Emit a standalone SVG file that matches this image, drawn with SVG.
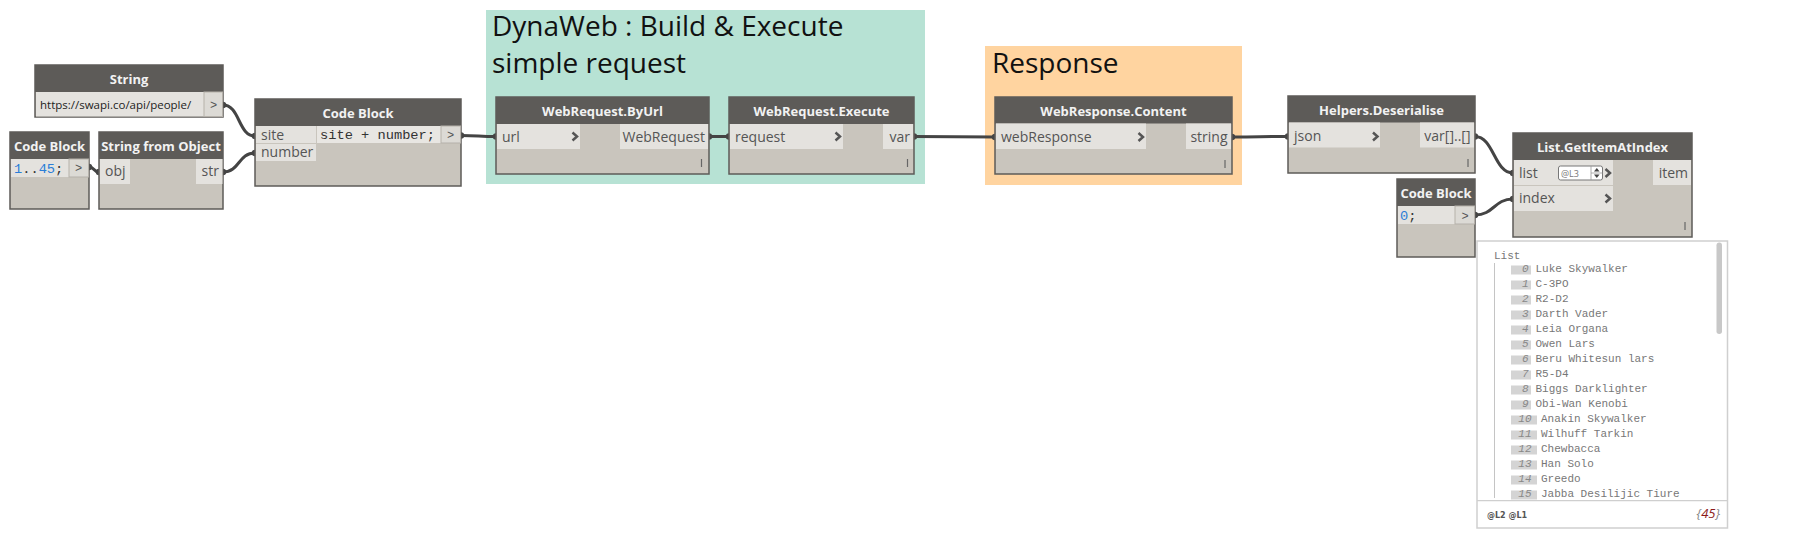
<svg xmlns="http://www.w3.org/2000/svg" width="1806" height="540" viewBox="0 0 1806 540">
<style>
.hdr{fill:#5d5b58}
.body{fill:#c9c5bd;stroke:#5d5b58;stroke-width:1.5}
.port{fill:#e4e2de}
.pbox{fill:#dcdad5;stroke:#b5b1aa;stroke-width:1}
.ht{font-family:"Open Sans","Noto Sans",sans-serif;font-size:13px;font-weight:bold;fill:#f2f2f2;text-anchor:middle}
.pt{font-family:"Open Sans","Noto Sans",sans-serif;font-size:14px;fill:#555}
.ptr{font-family:"Open Sans","Noto Sans",sans-serif;font-size:14px;fill:#555;text-anchor:end}
.code{font-family:"Liberation Mono","DejaVu Sans Mono",monospace;font-size:13.7px;fill:#333}
.num{fill:#2a7ed8}
.gt{font-family:"Open Sans","Noto Sans",sans-serif;font-size:28px;fill:#111}
.chev{fill:none;stroke:#555;stroke-width:2.5}
.lace{stroke:#666;stroke-width:1.2}
.wire{fill:none;stroke:#444;stroke-width:3}
.dot{fill:#444}
.wt{font-family:"Liberation Mono","DejaVu Sans Mono",monospace;font-size:11px;fill:#777}
.wi{font-family:"Liberation Mono","DejaVu Sans Mono",monospace;font-size:11px;fill:#888;font-style:italic;text-anchor:end}
.ib{fill:#d4d4d4}
</style>

<g id="group-dynaweb">
<rect x="486" y="10" width="439" height="174" fill="#b7e2d4"/>
<text class="gt" x="492" y="36">DynaWeb : Build &amp; Execute</text>
<text class="gt" x="492" y="72.5">simple request</text>
</g>
<g id="group-response">
<rect x="985" y="46" width="257" height="139" fill="#ffd4a0"/>
<text class="gt" x="992" y="73">Response</text>
</g>

<g id="connectors">
<path class="wire" d="M223,105 C240,105 238,136 255,136"/>
<path class="wire" d="M223,172 C240,172 238,153 255,153"/>
<path class="wire" d="M89,167 C95,167 93,172 99,172"/>
<path class="wire" d="M461,135.5 C478,135.5 479,136.5 496,136.5"/>
<path class="wire" d="M709,136.5 L729,136.5"/>
<path class="wire" d="M914,136.5 C950,136.5 959,137 995,137"/>
<path class="wire" d="M1232,137 C1260,137 1260,136.5 1288,136.5"/>
<path class="wire" d="M1475,136.5 C1494,136.5 1494,173 1513,173"/>
<path class="wire" d="M1475,215 C1494,215 1494,199 1513,199"/>
<g class="dot">
<circle cx="223" cy="105" r="3.2"/><circle cx="255" cy="136" r="3.2"/>
<circle cx="223" cy="172" r="3.2"/><circle cx="255" cy="153" r="3.2"/>
<circle cx="89" cy="167" r="3.2"/><circle cx="99" cy="172" r="3.2"/>
<circle cx="461" cy="135.5" r="3.2"/><circle cx="496" cy="136.5" r="3.2"/>
<circle cx="709" cy="136.5" r="3.2"/><circle cx="729" cy="136.5" r="3.2"/>
<circle cx="914" cy="136.5" r="3.2"/><circle cx="995" cy="137" r="3.2"/>
<circle cx="1232" cy="137" r="3.2"/><circle cx="1288" cy="136.5" r="3.2"/>
<circle cx="1475" cy="136.5" r="3.2"/><circle cx="1513" cy="173" r="3.2"/>
<circle cx="1475" cy="215" r="3.2"/><circle cx="1513" cy="199" r="3.2"/>
</g>
</g>

<g id="node-string">
<rect class="body" x="35" y="65" width="188" height="52"/>
<rect class="hdr" x="35" y="65" width="188" height="27"/>
<text class="ht" x="129" y="83.5">String</text>
<rect x="36" y="92" width="168" height="24.5" fill="#e4e2de"/>
<rect class="pbox" x="204" y="92" width="18.5" height="24.5"/>
<text x="40" y="109" font-family="'Open Sans','Noto Sans',sans-serif" font-size="11.5" fill="#222">https://swapi.co/api/people/</text>
<text x="213.5" y="109" font-family="'Liberation Mono',monospace" font-size="12" fill="#555" text-anchor="middle">&gt;</text>
</g>

<g id="node-codeblock-range">
<rect class="body" x="10" y="132" width="79" height="77"/>
<rect class="hdr" x="10" y="132" width="79" height="27"/>
<text class="ht" x="49.5" y="150.5">Code Block</text>
<rect class="port" x="11" y="159" width="58" height="18"/>
<rect class="pbox" x="69" y="159" width="19.5" height="18"/>
<text class="code" x="14" y="172.5"><tspan class="num">1</tspan>..<tspan class="num">45</tspan>;</text>
<text x="78.5" y="172" font-family="'Liberation Mono',monospace" font-size="12" fill="#555" text-anchor="middle">&gt;</text>
</g>

<g id="node-string-from-object">
<rect class="body" x="99" y="132" width="124" height="77"/>
<rect class="hdr" x="99" y="132" width="124" height="27"/>
<text class="ht" x="161" y="150.5">String from Object</text>
<rect class="port" x="100" y="159" width="30" height="25"/>
<rect class="port" x="196" y="159" width="26.5" height="25"/>
<text class="pt" x="105" y="176">obj</text>
<text class="ptr" x="219" y="176">str</text>
</g>

<g id="node-codeblock-concat">
<rect class="body" x="255" y="99" width="206" height="87"/>
<rect class="hdr" x="255" y="99" width="206" height="27"/>
<text class="ht" x="358" y="117.5">Code Block</text>
<rect class="port" x="256" y="126" width="60" height="17"/>
<rect class="port" x="256" y="144" width="60" height="17"/>
<rect x="317" y="126" width="124" height="17" fill="#e8e6e2"/>
<rect class="pbox" x="441" y="126" width="19.5" height="17"/>
<text class="pt" x="261" y="139.5">site</text>
<text class="pt" x="261" y="157">number</text>
<text class="code" x="320" y="139">site + number;</text>
<text x="450.5" y="139" font-family="'Liberation Mono',monospace" font-size="12" fill="#555" text-anchor="middle">&gt;</text>
</g>

<g id="node-webrequest-byurl">
<rect class="body" x="496" y="97" width="213" height="77"/>
<rect class="hdr" x="496" y="97" width="213" height="27"/>
<text class="ht" x="602.5" y="115.5">WebRequest.ByUrl</text>
<rect class="port" x="497" y="124" width="83" height="25"/>
<rect class="port" x="620" y="124" width="88" height="25"/>
<text class="pt" x="502" y="141.5">url</text>
<polyline class="chev" points="572.5,132.5 577,136.5 572.5,140.5"/>
<text class="ptr" x="705" y="141.5">WebRequest</text>
<line class="lace" x1="701.5" y1="159" x2="701.5" y2="167"/>
</g>

<g id="node-webrequest-execute">
<rect class="body" x="729" y="97" width="185" height="77"/>
<rect class="hdr" x="729" y="97" width="185" height="27"/>
<text class="ht" x="821.5" y="115.5">WebRequest.Execute</text>
<rect class="port" x="730" y="124" width="113" height="25"/>
<rect class="port" x="883" y="124" width="30" height="25"/>
<text class="pt" x="735" y="141.5">request</text>
<polyline class="chev" points="835.5,132.5 840,136.5 835.5,140.5"/>
<text class="ptr" x="910" y="141.5">var</text>
<line class="lace" x1="907.5" y1="159" x2="907.5" y2="167"/>
</g>

<g id="node-webresponse-content">
<rect class="body" x="995" y="97" width="237" height="77"/>
<rect class="hdr" x="995" y="97" width="237" height="26.5"/>
<text class="ht" x="1113.5" y="115.5">WebResponse.Content</text>
<rect class="port" x="996" y="123.5" width="150" height="25.5"/>
<rect class="port" x="1186" y="123.5" width="45" height="25.5"/>
<text class="pt" x="1001" y="141.5">webResponse</text>
<polyline class="chev" points="1138.5,133 1143,137 1138.5,141"/>
<text class="ptr" x="1227.5" y="141.5">string</text>
<line class="lace" x1="1225" y1="160" x2="1225" y2="168"/>
</g>

<g id="node-helpers-deserialise">
<rect class="body" x="1288" y="96" width="187" height="77"/>
<rect class="hdr" x="1288" y="96" width="187" height="26.5"/>
<text class="ht" x="1381.5" y="114.5">Helpers.Deserialise</text>
<rect class="port" x="1289" y="122.5" width="91" height="25"/>
<rect class="port" x="1420" y="122.5" width="54" height="25"/>
<text class="pt" x="1294" y="140.5">json</text>
<polyline class="chev" points="1373,132.5 1377.5,136.5 1373,140.5"/>
<text class="ptr" x="1470.5" y="140.5">var[]..[]</text>
<line class="lace" x1="1468" y1="159" x2="1468" y2="167"/>
</g>

<g id="node-codeblock-index">
<rect class="body" x="1397" y="179" width="78" height="78"/>
<rect class="hdr" x="1397" y="179" width="78" height="27"/>
<text class="ht" x="1436" y="197.5">Code Block</text>
<rect class="port" x="1398" y="206" width="57" height="18"/>
<rect class="pbox" x="1455" y="206" width="19.5" height="18"/>
<text class="code" x="1400" y="219.5"><tspan class="num">0</tspan>;</text>
<text x="1465" y="219.5" font-family="'Liberation Mono',monospace" font-size="12" fill="#555" text-anchor="middle">&gt;</text>
</g>

<g id="node-getitematindex">
<rect class="body" x="1513" y="133" width="179" height="104"/>
<rect class="hdr" x="1513" y="133" width="179" height="27"/>
<text class="ht" x="1602.5" y="151.5">List.GetItemAtIndex</text>
<rect class="port" x="1514" y="160" width="99" height="25"/>
<rect class="port" x="1514" y="186" width="99" height="25"/>
<line x1="1514" y1="185.5" x2="1613" y2="185.5" stroke="#c9c5bd" stroke-width="1"/>
<rect class="port" x="1653" y="160" width="38" height="25"/>
<text class="pt" x="1519" y="177.5">list</text>
<text class="pt" x="1519" y="203">index</text>
<rect x="1558.5" y="166" width="44" height="14" rx="2" fill="#fff" stroke="#777" stroke-width="1"/>
<text x="1561" y="176.5" font-family="'Open Sans','Noto Sans',sans-serif" font-size="9" fill="#777">@L3</text>
<line x1="1591" y1="166" x2="1591" y2="180" stroke="#999" stroke-width="0.8"/>
<line x1="1591" y1="173" x2="1602.5" y2="173" stroke="#999" stroke-width="0.8"/>
<polygon points="1594,171.5 1596.8,168 1599.6,171.5" fill="#444"/>
<polygon points="1594,174.5 1596.8,178 1599.6,174.5" fill="#444"/>
<polyline class="chev" points="1605.5,169 1610,173 1605.5,177"/>
<polyline class="chev" points="1605.5,194.5 1610,198.5 1605.5,202.5"/>
<text class="ptr" x="1688" y="177.5">item</text>
<line class="lace" x1="1685" y1="222" x2="1685" y2="230"/>
</g>

<g id="watch-output">
<rect x="1477" y="241" width="250.5" height="287" fill="#fff" stroke="#cfcfcf" stroke-width="1.5"/>
<line x1="1477" y1="500.7" x2="1727.5" y2="500.7" stroke="#cfcfcf" stroke-width="1.2"/>
<rect x="1716.5" y="242.5" width="5.5" height="91.5" rx="2.7" fill="#c8c8c8"/>
<text class="wt" x="1494" y="258.5">List</text>
<line x1="1494.5" y1="263" x2="1494.5" y2="498" stroke="#c4c4c4" stroke-width="1"/>
<g>
<rect class="ib" x="1511" y="265.5" width="20" height="9"/><text class="wi" x="1528.5" y="272">0</text><text class="wt" x="1535.5" y="272">Luke Skywalker</text>
<rect class="ib" x="1511" y="280.5" width="20" height="9"/><text class="wi" x="1528.5" y="287">1</text><text class="wt" x="1535.5" y="287">C-3PO</text>
<rect class="ib" x="1511" y="295.5" width="20" height="9"/><text class="wi" x="1528.5" y="302">2</text><text class="wt" x="1535.5" y="302">R2-D2</text>
<rect class="ib" x="1511" y="310.5" width="20" height="9"/><text class="wi" x="1528.5" y="317">3</text><text class="wt" x="1535.5" y="317">Darth Vader</text>
<rect class="ib" x="1511" y="325.5" width="20" height="9"/><text class="wi" x="1528.5" y="332">4</text><text class="wt" x="1535.5" y="332">Leia Organa</text>
<rect class="ib" x="1511" y="340.5" width="20" height="9"/><text class="wi" x="1528.5" y="347">5</text><text class="wt" x="1535.5" y="347">Owen Lars</text>
<rect class="ib" x="1511" y="355.5" width="20" height="9"/><text class="wi" x="1528.5" y="362">6</text><text class="wt" x="1535.5" y="362">Beru Whitesun lars</text>
<rect class="ib" x="1511" y="370.5" width="20" height="9"/><text class="wi" x="1528.5" y="377">7</text><text class="wt" x="1535.5" y="377">R5-D4</text>
<rect class="ib" x="1511" y="385.5" width="20" height="9"/><text class="wi" x="1528.5" y="392">8</text><text class="wt" x="1535.5" y="392">Biggs Darklighter</text>
<rect class="ib" x="1511" y="400.5" width="20" height="9"/><text class="wi" x="1528.5" y="407">9</text><text class="wt" x="1535.5" y="407">Obi-Wan Kenobi</text>
<rect class="ib" x="1511" y="415.5" width="26" height="9"/><text class="wi" x="1531.5" y="422">10</text><text class="wt" x="1541" y="422">Anakin Skywalker</text>
<rect class="ib" x="1511" y="430.5" width="26" height="9"/><text class="wi" x="1531.5" y="437">11</text><text class="wt" x="1541" y="437">Wilhuff Tarkin</text>
<rect class="ib" x="1511" y="445.5" width="26" height="9"/><text class="wi" x="1531.5" y="452">12</text><text class="wt" x="1541" y="452">Chewbacca</text>
<rect class="ib" x="1511" y="460.5" width="26" height="9"/><text class="wi" x="1531.5" y="467">13</text><text class="wt" x="1541" y="467">Han Solo</text>
<rect class="ib" x="1511" y="475.5" width="26" height="9"/><text class="wi" x="1531.5" y="482">14</text><text class="wt" x="1541" y="482">Greedo</text>
<rect class="ib" x="1511" y="490.5" width="26" height="9"/><text class="wi" x="1531.5" y="497">15</text><text class="wt" x="1541" y="497">Jabba Desilijic Tiure</text>
</g>
<text x="1487" y="517.5" font-family="'DejaVu Sans','Noto Sans',sans-serif" font-size="8" font-weight="bold" fill="#555">@L2 @L1</text>
<text x="1720" y="517.5" font-family="'Open Sans','Noto Sans',sans-serif" font-size="13" font-style="italic" text-anchor="end" fill="#888">{<tspan fill="#8b1a1a">45</tspan>}</text>
</g>
</svg>
